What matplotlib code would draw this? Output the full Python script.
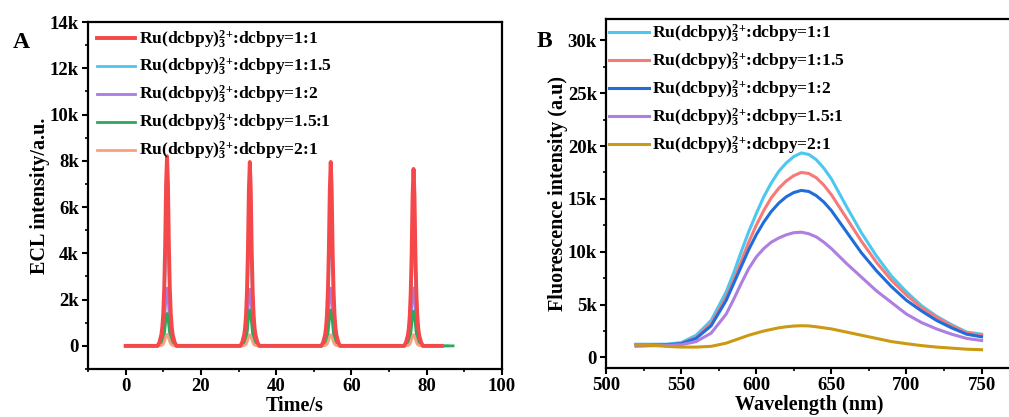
import numpy as np
import matplotlib
matplotlib.use("Agg")
import matplotlib.pyplot as plt
from matplotlib.ticker import MultipleLocator, FuncFormatter

plt.rcParams['font.family'] = ['Liberation Serif', 'DejaVu Serif']
plt.rcParams['font.weight'] = 'bold'
plt.rcParams['mathtext.fontset'] = 'custom'
plt.rcParams['mathtext.rm'] = 'Liberation Serif:bold'
plt.rcParams['mathtext.it'] = 'Liberation Serif:bold'
plt.rcParams['mathtext.bf'] = 'Liberation Serif:bold'

# ---- panel A: ECL vs time ----
ecl_labels = ['1:1', '1:1.5', '1:2', '1.5:1', '2:1']
ecl_colors = ['#F5484A', '#4DC6EE', '#A77CE2', '#2FA65C', '#F9A07C']
peak_times = [11.0, 33.0, 54.5, 76.5]
ecl_heights = [
    [8200, 7950, 7950, 7650],   # 1:1
    [5350, 5200, 5200, 5000],   # 1:1.5
    [2500, 2450, 2500, 2500],   # 1:2
    [1400, 1550, 1550, 1500],   # 1.5:1
    [500, 480, 480, 480],       # 2:1
]
ecl_end = [84.0, 85.5, 84.0, 87.0, 84.0]
# normalised peak shape (offset in s, fraction of peak)
shape_offsets = [-2.5, -2.0, -1.5, -1.25, -1.0, -0.75, -0.5, -0.25, 0.0,
                 0.25, 0.5, 0.75, 1.0, 1.25, 1.5, 2.0, 2.5]
shape_wide = [0.0, 0.02, 0.06, 0.1, 0.17, 0.3, 0.52, 0.85, 1.0,
              0.85, 0.52, 0.3, 0.17, 0.1, 0.06, 0.02, 0.0]
shape_narrow = [0.0, 0.01, 0.04, 0.08, 0.16, 0.33, 0.6, 0.88, 1.0,
                0.88, 0.6, 0.33, 0.16, 0.08, 0.04, 0.01, 0.0]

# ---- panel B: fluorescence spectra ----
wavelength = [520, 530, 540, 550, 560, 570, 580, 585, 590, 595, 600, 605,
              610, 615, 620, 625, 630, 635, 640, 645, 650, 655, 660, 670,
              680, 690, 700, 710, 720, 730, 740, 750]
fl_labels = ['1:1', '1:1.5', '1:2', '1.5:1', '2:1']
fl_colors = ['#4CC8F0', '#F57A78', '#1F6DD8', '#AE7FE0', '#CC9A12']
fl_values = [
    [1.25, 1.25, 1.25, 1.4, 2.1, 3.5, 6.2, 8.0, 10.0, 11.9, 13.6, 15.2,
     16.5, 17.6, 18.4, 19.0, 19.35, 19.2, 18.7, 17.9, 16.9, 15.6, 14.3, 11.8,
     9.6, 7.7, 6.2, 4.9, 3.9, 3.1, 2.4, 2.2],
    [1.05, 1.1, 1.15, 1.3, 1.9, 3.2, 5.7, 7.3, 9.1, 10.9, 12.5, 13.9,
     15.1, 16.0, 16.7, 17.2, 17.5, 17.4, 17.0, 16.3, 15.4, 14.3, 13.2, 11.0,
     9.0, 7.3, 5.9, 4.7, 3.8, 3.0, 2.35, 2.1],
    [1.2, 1.2, 1.2, 1.3, 1.8, 3.0, 5.4, 7.0, 8.6, 10.2, 11.6, 12.8,
     13.8, 14.6, 15.2, 15.6, 15.8, 15.7, 15.3, 14.7, 13.9, 12.9, 11.9, 9.9,
     8.2, 6.7, 5.4, 4.4, 3.5, 2.8, 2.2, 1.95],
    [1.2, 1.2, 1.15, 1.2, 1.5, 2.3, 4.1, 5.5, 7.0, 8.4, 9.5, 10.3,
     10.9, 11.3, 11.6, 11.8, 11.85, 11.7, 11.4, 10.9, 10.3, 9.6, 8.9, 7.6,
     6.3, 5.2, 4.1, 3.3, 2.7, 2.2, 1.8, 1.6],
    [1.2, 1.15, 1.05, 0.98, 0.98, 1.05, 1.35, 1.6, 1.85, 2.1, 2.3, 2.5,
     2.65, 2.8, 2.9, 2.97, 3.0, 2.98, 2.9, 2.8, 2.7, 2.55, 2.4, 2.1,
     1.8, 1.5, 1.3, 1.12, 0.98, 0.88, 0.78, 0.73],
]


def k_fmt(v, pos):
    if abs(v) < 1e-9:
        return '0'
    return f'{int(round(v / 1000))}k'


def ru_label(ratio):
    return r'Ru(dcbpy)$_3^{2{+}}$:dcbpy=' + ratio


def style_axes(ax):
    for sp in ax.spines.values():
        sp.set_linewidth(1.6)
    ax.tick_params(which='major', direction='out', length=4.5, width=1.5,
                   labelsize=13.5, pad=2, top=False, right=False)
    ax.tick_params(which='minor', direction='out', length=2.5, width=1.2,
                   top=False, right=False)
    for lab in ax.get_xticklabels() + ax.get_yticklabels():
        lab.set_fontweight('bold')


fig = plt.figure(figsize=(10.09, 4.17), dpi=100)

# panel A
axA = fig.add_axes([0.0872, 0.1151, 0.4103, 0.8319])
for i in [1, 2, 3, 4, 0]:
    shape = shape_wide if i == 0 else shape_narrow
    t = [0.0]
    y = [0.0]
    for c, h in zip(peak_times, ecl_heights[i]):
        for off, frac in zip(shape_offsets, shape):
            t.append(c + off)
            y.append(h * frac)
    t.append(ecl_end[i])
    y.append(0.0)
    axA.plot(t, y, color=ecl_colors[i], lw=2.8 if i == 0 else 2.0,
             label=ru_label(ecl_labels[i]), zorder=5 if i == 0 else 2 + i * 0.1,
             solid_joinstyle='round')
axA.set_xlim(-10, 100)
axA.set_ylim(-1000, 14000)
axA.xaxis.set_major_locator(MultipleLocator(20))
axA.xaxis.set_minor_locator(MultipleLocator(10))
axA.yaxis.set_major_locator(MultipleLocator(2000))
axA.yaxis.set_minor_locator(MultipleLocator(1000))
axA.yaxis.set_major_formatter(FuncFormatter(k_fmt))
axA.set_xlabel('Time/s', fontsize=14.5, fontweight='bold', labelpad=1)
axA.set_ylabel('ECL intensity/a.u.', fontsize=14.5, fontweight='bold', labelpad=0)
style_axes(axA)
h, l = axA.get_legend_handles_labels()
order = [l.index(ru_label(r)) for r in ecl_labels]
axA.legend([h[k] for k in order], [l[k] for k in order], loc='upper left',
           bbox_to_anchor=(0.0217, 0.982), frameon=False, fontsize=12.6,
           handlelength=2.17, handletextpad=0.22, labelspacing=0.33,
           borderaxespad=0, borderpad=0)
fig.text(0.013, 0.885, 'A', fontsize=17, fontweight='bold')

# panel B
axB = fig.add_axes([0.6006, 0.1175, 0.402, 0.8365])
for i in range(len(fl_labels)):
    axB.plot(wavelength, np.array(fl_values[i]) * 1000, color=fl_colors[i],
             lw=2.2, label=ru_label(fl_labels[i]))
axB.set_xlim(500, 770)
axB.set_ylim(-1000, 32000)
axB.xaxis.set_major_locator(MultipleLocator(50))
axB.xaxis.set_minor_locator(MultipleLocator(25))
axB.yaxis.set_major_locator(MultipleLocator(5000))
axB.yaxis.set_minor_locator(MultipleLocator(2500))
axB.yaxis.set_major_formatter(FuncFormatter(k_fmt))
axB.set_xlabel('Wavelength (nm)', fontsize=14.5, fontweight='bold', labelpad=1)
axB.set_ylabel('Fluorescence intensity (a.u)', fontsize=14.5, fontweight='bold',
               labelpad=0)
style_axes(axB)
axB.legend(loc='upper left', bbox_to_anchor=(0.0074, 0.990), frameon=False,
           fontsize=12.6, handlelength=2.29, handletextpad=0.17,
           labelspacing=0.33, borderaxespad=0, borderpad=0)
fig.text(0.532, 0.887, 'B', fontsize=17, fontweight='bold')

fig.savefig('out.png', dpi=100)
